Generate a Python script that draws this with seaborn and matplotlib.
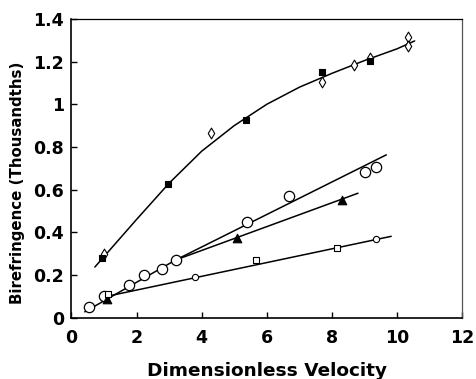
import matplotlib
matplotlib.use("Agg")
import matplotlib.pyplot as plt
import seaborn as sns

# ---- data ----
top_sq_x = [0.93, 2.97, 5.37, 7.69, 9.16]
top_sq_y = [0.281, 0.627, 0.928, 1.153, 1.203]
top_dia_x = [1.01, 4.30, 7.69, 8.67, 9.16, 10.34, 10.34]
top_dia_y = [0.300, 0.864, 1.105, 1.185, 1.216, 1.315, 1.273]
circ_x = [0.55, 1.01, 1.76, 2.23, 2.77, 3.20, 5.40, 6.68, 9.01, 9.36]
circ_y = [0.048, 0.100, 0.152, 0.199, 0.230, 0.269, 0.448, 0.568, 0.681, 0.705]
tri_x = [1.08, 5.07, 8.32]
tri_y = [0.088, 0.375, 0.552]
small_sq_x = [1.13, 5.68, 8.17]
small_sq_y = [0.112, 0.272, 0.328]
small_circ_x = [3.79, 9.36]
small_circ_y = [0.188, 0.367]

# trend lines
curve_top_x = [0.72, 2.0, 3.0, 4.0, 5.0, 6.0, 7.0, 8.0, 9.0, 10.0, 10.54]
curve_top_y = [0.237, 0.460, 0.630, 0.780, 0.900, 1.000, 1.080, 1.145, 1.205, 1.260, 1.297]
line_circ_x = [0.41, 3.20, 9.67]
line_circ_y = [0.027, 0.270, 0.763]
line_tri_x = [3.20, 8.80]
line_tri_y = [0.270, 0.583]
line_bot_x = [1.10, 9.82]
line_bot_y = [0.100, 0.381]

x_ticks = [0, 2, 4, 6, 8, 10, 12]
y_ticks = [0, 0.2, 0.4, 0.6, 0.8, 1.0, 1.2, 1.4]
y_tick_labels = ["0", "0.2", "0.4", "0.6", "0.8", "1", "1.2", "1.4"]

sns.set_style("ticks")
plt.rcParams['font.family'] = ['DejaVu Sans']
plt.rcParams['font.weight'] = 'bold'
plt.rcParams['text.color'] = 'black'
plt.rcParams['axes.labelcolor'] = 'black'
plt.rcParams['xtick.color'] = 'black'
plt.rcParams['ytick.color'] = 'black'

fig = plt.figure(figsize=(4.76, 3.79), dpi=100)
ax = fig.add_axes([0.150, 0.162, 0.821, 0.788])

lw = 1.1
for lx, ly in [(curve_top_x, curve_top_y), (line_circ_x, line_circ_y),
               (line_tri_x, line_tri_y), (line_bot_x, line_bot_y)]:
    sns.lineplot(x=lx, y=ly, ax=ax, color='black', linewidth=lw, sort=False,
                 estimator=None, zorder=2)

def sc(x, y, marker, size, face, ew=1.0):
    sns.scatterplot(x=x, y=y, ax=ax, marker=marker, s=size, facecolor=face,
                    edgecolor='black', linewidth=ew, zorder=3)

sc(top_dia_x, top_dia_y, 'd', 30, 'white', 0.8)
sc(top_sq_x, top_sq_y, 's', 22, 'black', 0.8)
sc(circ_x, circ_y, 'o', 55, 'white', 0.9)
sc(tri_x, tri_y, '^', 38, 'black', 0.8)
sc(small_sq_x, small_sq_y, 's', 20, 'white', 0.8)
sc(small_circ_x, small_circ_y, 'o', 20, 'white', 0.8)

ax.set_xlim(0, 12)
ax.set_ylim(0, 1.4)
ax.set_xticks(x_ticks)
ax.set_xticklabels([str(t) for t in x_ticks])
ax.set_yticks(y_ticks)
ax.set_yticklabels(y_tick_labels)
ax.tick_params(direction='in', length=4, width=1, labelsize=12.5, colors='black')
ax.tick_params(axis='x', pad=8)
ax.tick_params(axis='y', pad=5.5)
for lab in ax.get_xticklabels() + ax.get_yticklabels():
    lab.set_fontweight('bold')
for s in ['left', 'bottom']:
    ax.spines[s].set_linewidth(1.2)
    ax.spines[s].set_color('black')
for s in ['top', 'right']:
    ax.spines[s].set_visible(True)
    ax.spines[s].set_linewidth(0.9)
ax.spines['top'].set_color('black')
ax.spines['right'].set_color('#555555')

ax.set_xlabel("Dimensionless Velocity", fontsize=13.3, fontweight='bold', color='black')
ax.set_ylabel("Birefringence (Thousandths)", fontsize=10.8, fontweight='bold', color='black')
ax.xaxis.set_label_coords(0.5, -0.150)
ax.yaxis.set_label_coords(-0.119, 0.452)

fig.savefig("out.png", dpi=100)
